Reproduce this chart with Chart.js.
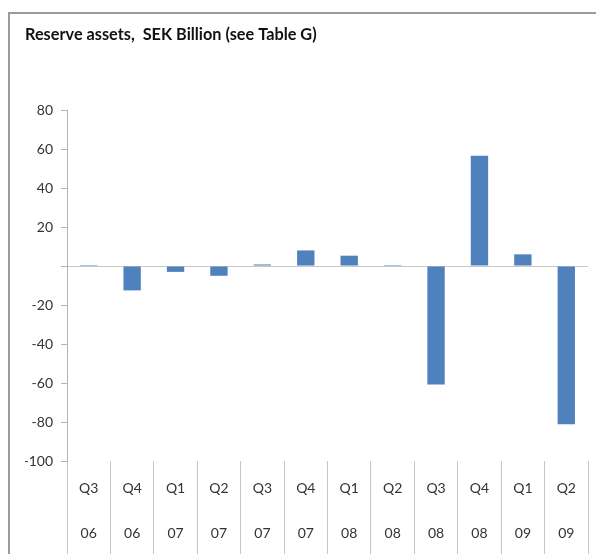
<!DOCTYPE html>
<html>
<head>
<meta charset="utf-8">
<script src="https://cdn.jsdelivr.net/npm/chart.js@4/dist/chart.umd.min.js"></script>
<style>
  html, body { margin: 0; padding: 0; background: #fff; }
  #wrap { position: relative; width: 596px; height: 554px; overflow: hidden; }
  #frame {
    position: absolute; left: 8px; top: 12px; width: 700px; height: 700px;
    border-top: 2px solid #9a9a9a; border-left: 2px solid #9a9a9a;
  }
  #myChart { position: absolute; left: 0; top: 0; }
</style>
</head>
<body>
<div id="wrap">
  <div id="frame"></div>
  <canvas id="myChart" width="596" height="554"></canvas>
</div>
<script>
const quarters = ['Q3', 'Q4', 'Q1', 'Q2', 'Q3', 'Q4', 'Q1', 'Q2', 'Q3', 'Q4', 'Q1', 'Q2'];
const years = ['06', '06', '07', '07', '07', '07', '08', '08', '08', '08', '09', '09'];
const reserveAssets = [0.5, -12.5, -3, -5, 0.8, 8, 5.3, 0.5, -60.7, 56.6, 6, -81.2];
const yTicks = [80, 60, 40, 20, 0, -20, -40, -60, -80, -100];

const labels = quarters.map((q, i) => [q, years[i]]);
const fontFamily = 'Lato, "Open Sans", sans-serif';

const ctx = document.getElementById('myChart').getContext('2d');
const myChart = new Chart(ctx, {
  type: 'bar',
  data: {
    labels: labels,
    datasets: [{
      label: 'Reserve assets',
      data: reserveAssets,
      backgroundColor: '#4f81bd',
      borderWidth: 0,
      barPercentage: 0.4,
      categoryPercentage: 1
    }]
  },
  options: {
    responsive: false,
    animation: false,
    events: [],
    layout: { padding: { left: 25, right: 8, top: 0, bottom: 0 } },
    plugins: {
      legend: { display: false },
      tooltip: { enabled: false },
      title: {
        display: true,
        text: 'Reserve assets,  SEK Billion (see Table G)',
        align: 'start',
        color: '#111',
        font: { family: fontFamily, size: 16.3, weight: 'bold' },
        padding: { top: 25, bottom: 65.5 }
      }
    },
    scales: {
      x: {
        border: { display: false },
        grid: {
          offset: true,
          drawOnChartArea: false,
          drawTicks: true,
          tickLength: 93,
          tickColor: '#c6c6c6',
          lineWidth: 1
        },
        ticks: {
          color: '#333',
          padding: -88.5,
          maxRotation: 0,
          autoSkip: false,
          font: { family: fontFamily, size: 14, lineHeight: 3.214 }
        },
        afterFit: scale => { scale.height = 93; }
      },
      y: {
        min: -100,
        max: 80,
        afterBuildTicks: scale => { scale.ticks = yTicks.map(v => ({ value: v })); },
        border: { display: true, color: '#b4b4b4', width: 1 },
        grid: {
          color: c => (c.tick && c.tick.value === 0 ? '#c8c8c8' : 'transparent'),
          tickColor: '#b4b4b4',
          tickLength: 6,
          lineWidth: 1
        },
        ticks: {
          color: '#333',
          padding: 8,
          callback: v => (v === 0 ? '' : v),
          font: { family: fontFamily, size: 14 }
        },
        afterFit: scale => { scale.width = 42; }
      }
    }
  }
});
</script>
</body>
</html>
